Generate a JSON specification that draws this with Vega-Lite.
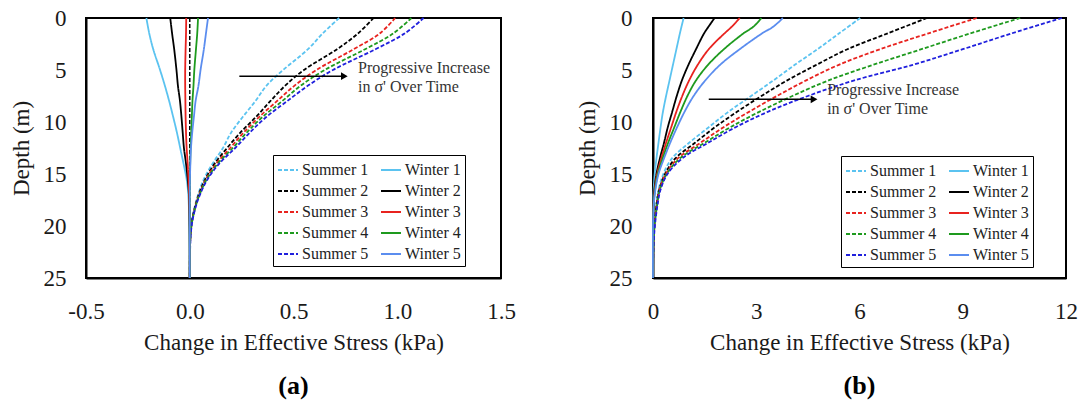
{
  "$schema": "https://vega.github.io/schema/vega-lite/v6.json",
  "padding": {"left": 9, "top": 6, "right": 0, "bottom": 0},
  "background": "white",
  "config": {
    "font": "Liberation Serif",
    "view": {"stroke": "black", "strokeWidth": 2},
    "axis": {"domainColor": "black", "domainWidth": 2, "ticks": false, "labelFont": "Liberation Serif", "labelFontSize": 23, "labelColor": "#1a1a1a", "titleFont": "Liberation Serif", "titleFontSize": 23, "titleFontWeight": "normal", "titleColor": "#1a1a1a", "grid": false, "labelFlush": false, "labelOverlap": false},
    "legend": {"title": null, "orient": "none", "columns": 2, "symbolType": "stroke", "symbolSize": 400, "symbolStrokeWidth": 2, "labelFontSize": 16, "labelFont": "Liberation Serif", "labelColor": "#222", "padding": 4, "rowPadding": 2, "columnPadding": 8, "fillColor": "white", "strokeColor": "black", "labelOffset": 3}
  },
  "datasets": {
    "a": [
      {"series": "Summer 1", "depth": 0, "value": 0.72}, {"series": "Summer 1", "depth": 1.5, "value": 0.64}, {"series": "Summer 1", "depth": 3, "value": 0.57}, {"series": "Summer 1", "depth": 5, "value": 0.45}, {"series": "Summer 1", "depth": 6.5, "value": 0.37}, {"series": "Summer 1", "depth": 8, "value": 0.316}, {"series": "Summer 1", "depth": 9.5, "value": 0.256}, {"series": "Summer 1", "depth": 11, "value": 0.2}, {"series": "Summer 1", "depth": 12.5, "value": 0.16}, {"series": "Summer 1", "depth": 14, "value": 0.11}, {"series": "Summer 1", "depth": 15.5, "value": 0.068}, {"series": "Summer 1", "depth": 17, "value": 0.04}, {"series": "Summer 1", "depth": 18.5, "value": 0.02}, {"series": "Summer 1", "depth": 20, "value": 0.006}, {"series": "Summer 1", "depth": 21.5, "value": 0.002}, {"series": "Summer 1", "depth": 25, "value": 0},
      {"series": "Summer 2", "depth": 0, "value": 0.886}, {"series": "Summer 2", "depth": 1.5, "value": 0.81}, {"series": "Summer 2", "depth": 3, "value": 0.71}, {"series": "Summer 2", "depth": 5, "value": 0.55}, {"series": "Summer 2", "depth": 6.5, "value": 0.46}, {"series": "Summer 2", "depth": 8, "value": 0.388}, {"series": "Summer 2", "depth": 9.5, "value": 0.32}, {"series": "Summer 2", "depth": 11, "value": 0.245}, {"series": "Summer 2", "depth": 12.5, "value": 0.18}, {"series": "Summer 2", "depth": 14, "value": 0.12}, {"series": "Summer 2", "depth": 15.5, "value": 0.075}, {"series": "Summer 2", "depth": 17, "value": 0.043}, {"series": "Summer 2", "depth": 18.5, "value": 0.021}, {"series": "Summer 2", "depth": 20, "value": 0.007}, {"series": "Summer 2", "depth": 21.5, "value": 0.002}, {"series": "Summer 2", "depth": 25, "value": 0},
      {"series": "Summer 3", "depth": 0, "value": 0.99}, {"series": "Summer 3", "depth": 1.5, "value": 0.915}, {"series": "Summer 3", "depth": 3, "value": 0.79}, {"series": "Summer 3", "depth": 5, "value": 0.61}, {"series": "Summer 3", "depth": 6.5, "value": 0.505}, {"series": "Summer 3", "depth": 8, "value": 0.42}, {"series": "Summer 3", "depth": 9.5, "value": 0.335}, {"series": "Summer 3", "depth": 11, "value": 0.26}, {"series": "Summer 3", "depth": 12.5, "value": 0.195}, {"series": "Summer 3", "depth": 14, "value": 0.128}, {"series": "Summer 3", "depth": 15.5, "value": 0.078}, {"series": "Summer 3", "depth": 17, "value": 0.045}, {"series": "Summer 3", "depth": 18.5, "value": 0.022}, {"series": "Summer 3", "depth": 20, "value": 0.008}, {"series": "Summer 3", "depth": 21.5, "value": 0.002}, {"series": "Summer 3", "depth": 25, "value": 0},
      {"series": "Summer 4", "depth": 0, "value": 1.068}, {"series": "Summer 4", "depth": 1.5, "value": 0.98}, {"series": "Summer 4", "depth": 3, "value": 0.845}, {"series": "Summer 4", "depth": 5, "value": 0.65}, {"series": "Summer 4", "depth": 6.5, "value": 0.535}, {"series": "Summer 4", "depth": 8, "value": 0.445}, {"series": "Summer 4", "depth": 9.5, "value": 0.352}, {"series": "Summer 4", "depth": 11, "value": 0.275}, {"series": "Summer 4", "depth": 12.5, "value": 0.207}, {"series": "Summer 4", "depth": 14, "value": 0.135}, {"series": "Summer 4", "depth": 15.5, "value": 0.082}, {"series": "Summer 4", "depth": 17, "value": 0.047}, {"series": "Summer 4", "depth": 18.5, "value": 0.023}, {"series": "Summer 4", "depth": 20, "value": 0.008}, {"series": "Summer 4", "depth": 21.5, "value": 0.002}, {"series": "Summer 4", "depth": 25, "value": 0},
      {"series": "Summer 5", "depth": 0, "value": 1.127}, {"series": "Summer 5", "depth": 1.5, "value": 1.035}, {"series": "Summer 5", "depth": 3, "value": 0.895}, {"series": "Summer 5", "depth": 5, "value": 0.69}, {"series": "Summer 5", "depth": 6.5, "value": 0.57}, {"series": "Summer 5", "depth": 8, "value": 0.469}, {"series": "Summer 5", "depth": 9.5, "value": 0.37}, {"series": "Summer 5", "depth": 11, "value": 0.29}, {"series": "Summer 5", "depth": 12.5, "value": 0.219}, {"series": "Summer 5", "depth": 14, "value": 0.142}, {"series": "Summer 5", "depth": 15.5, "value": 0.086}, {"series": "Summer 5", "depth": 17, "value": 0.049}, {"series": "Summer 5", "depth": 18.5, "value": 0.024}, {"series": "Summer 5", "depth": 20, "value": 0.009}, {"series": "Summer 5", "depth": 21.5, "value": 0.003}, {"series": "Summer 5", "depth": 25, "value": 0},
      {"series": "Winter 1", "depth": 0, "value": -0.209}, {"series": "Winter 1", "depth": 1.5, "value": -0.195}, {"series": "Winter 1", "depth": 3, "value": -0.176}, {"series": "Winter 1", "depth": 5, "value": -0.143}, {"series": "Winter 1", "depth": 6.5, "value": -0.12}, {"series": "Winter 1", "depth": 8, "value": -0.099}, {"series": "Winter 1", "depth": 9.5, "value": -0.08}, {"series": "Winter 1", "depth": 11, "value": -0.062}, {"series": "Winter 1", "depth": 12.5, "value": -0.046}, {"series": "Winter 1", "depth": 14, "value": -0.03}, {"series": "Winter 1", "depth": 15.5, "value": -0.015}, {"series": "Winter 1", "depth": 17, "value": -0.007}, {"series": "Winter 1", "depth": 20, "value": -0.002}, {"series": "Winter 1", "depth": 25, "value": 0},
      {"series": "Winter 2", "depth": 0, "value": -0.094}, {"series": "Winter 2", "depth": 1.5, "value": -0.085}, {"series": "Winter 2", "depth": 3, "value": -0.075}, {"series": "Winter 2", "depth": 5, "value": -0.064}, {"series": "Winter 2", "depth": 6.5, "value": -0.057}, {"series": "Winter 2", "depth": 8, "value": -0.047}, {"series": "Winter 2", "depth": 9.5, "value": -0.04}, {"series": "Winter 2", "depth": 11, "value": -0.034}, {"series": "Winter 2", "depth": 12.5, "value": -0.028}, {"series": "Winter 2", "depth": 14, "value": -0.018}, {"series": "Winter 2", "depth": 15.5, "value": -0.01}, {"series": "Winter 2", "depth": 17, "value": -0.004}, {"series": "Winter 2", "depth": 20, "value": -0.001}, {"series": "Winter 2", "depth": 25, "value": 0},
      {"series": "Winter 3", "depth": 0, "value": -0.017}, {"series": "Winter 3", "depth": 1.5, "value": -0.018}, {"series": "Winter 3", "depth": 3, "value": -0.02}, {"series": "Winter 3", "depth": 5, "value": -0.022}, {"series": "Winter 3", "depth": 6.5, "value": -0.022}, {"series": "Winter 3", "depth": 8, "value": -0.021}, {"series": "Winter 3", "depth": 9.5, "value": -0.02}, {"series": "Winter 3", "depth": 11, "value": -0.018}, {"series": "Winter 3", "depth": 12.5, "value": -0.015}, {"series": "Winter 3", "depth": 14, "value": -0.01}, {"series": "Winter 3", "depth": 15.5, "value": -0.006}, {"series": "Winter 3", "depth": 17, "value": -0.003}, {"series": "Winter 3", "depth": 20, "value": 0}, {"series": "Winter 3", "depth": 25, "value": 0},
      {"series": "Winter 4", "depth": 0, "value": 0.04}, {"series": "Winter 4", "depth": 1.5, "value": 0.036}, {"series": "Winter 4", "depth": 3, "value": 0.03}, {"series": "Winter 4", "depth": 5, "value": 0.022}, {"series": "Winter 4", "depth": 6.5, "value": 0.018}, {"series": "Winter 4", "depth": 8, "value": 0.013}, {"series": "Winter 4", "depth": 9.5, "value": 0.01}, {"series": "Winter 4", "depth": 11, "value": 0.007}, {"series": "Winter 4", "depth": 12.5, "value": 0.004}, {"series": "Winter 4", "depth": 14, "value": 0.002}, {"series": "Winter 4", "depth": 15.5, "value": 0.001}, {"series": "Winter 4", "depth": 17, "value": 0}, {"series": "Winter 4", "depth": 20, "value": 0}, {"series": "Winter 4", "depth": 25, "value": 0},
      {"series": "Winter 5", "depth": 0, "value": 0.088}, {"series": "Winter 5", "depth": 1.5, "value": 0.078}, {"series": "Winter 5", "depth": 3, "value": 0.068}, {"series": "Winter 5", "depth": 5, "value": 0.052}, {"series": "Winter 5", "depth": 6.5, "value": 0.042}, {"series": "Winter 5", "depth": 8, "value": 0.028}, {"series": "Winter 5", "depth": 9.5, "value": 0.02}, {"series": "Winter 5", "depth": 11, "value": 0.012}, {"series": "Winter 5", "depth": 12.5, "value": 0.006}, {"series": "Winter 5", "depth": 14, "value": 0.003}, {"series": "Winter 5", "depth": 15.5, "value": 0.001}, {"series": "Winter 5", "depth": 17, "value": 0}, {"series": "Winter 5", "depth": 20, "value": 0}, {"series": "Winter 5", "depth": 25, "value": 0}
    ],
    "b": [
      {"series": "Summer 1", "depth": 0, "value": 6.02}, {"series": "Summer 1", "depth": 1.5, "value": 5.4}, {"series": "Summer 1", "depth": 3, "value": 4.78}, {"series": "Summer 1", "depth": 4.5, "value": 4.12}, {"series": "Summer 1", "depth": 6, "value": 3.5}, {"series": "Summer 1", "depth": 7.5, "value": 2.85}, {"series": "Summer 1", "depth": 9, "value": 2.2}, {"series": "Summer 1", "depth": 10.5, "value": 1.62}, {"series": "Summer 1", "depth": 12, "value": 1.05}, {"series": "Summer 1", "depth": 13.5, "value": 0.55}, {"series": "Summer 1", "depth": 15, "value": 0.3}, {"series": "Summer 1", "depth": 16.5, "value": 0.16}, {"series": "Summer 1", "depth": 18, "value": 0.09}, {"series": "Summer 1", "depth": 19.5, "value": 0.04}, {"series": "Summer 1", "depth": 21, "value": 0.015}, {"series": "Summer 1", "depth": 22.5, "value": 0.005}, {"series": "Summer 1", "depth": 25, "value": 0},
      {"series": "Summer 2", "depth": 0, "value": 7.96}, {"series": "Summer 2", "depth": 1.5, "value": 6.8}, {"series": "Summer 2", "depth": 3, "value": 5.65}, {"series": "Summer 2", "depth": 4.5, "value": 4.75}, {"series": "Summer 2", "depth": 6, "value": 3.9}, {"series": "Summer 2", "depth": 7.5, "value": 3.15}, {"series": "Summer 2", "depth": 9, "value": 2.45}, {"series": "Summer 2", "depth": 10.5, "value": 1.8}, {"series": "Summer 2", "depth": 12, "value": 1.22}, {"series": "Summer 2", "depth": 13.5, "value": 0.65}, {"series": "Summer 2", "depth": 15, "value": 0.35}, {"series": "Summer 2", "depth": 16.5, "value": 0.18}, {"series": "Summer 2", "depth": 18, "value": 0.1}, {"series": "Summer 2", "depth": 19.5, "value": 0.05}, {"series": "Summer 2", "depth": 21, "value": 0.02}, {"series": "Summer 2", "depth": 22.5, "value": 0.006}, {"series": "Summer 2", "depth": 25, "value": 0},
      {"series": "Summer 3", "depth": 0, "value": 9.41}, {"series": "Summer 3", "depth": 1.5, "value": 7.98}, {"series": "Summer 3", "depth": 3, "value": 6.6}, {"series": "Summer 3", "depth": 4.5, "value": 5.4}, {"series": "Summer 3", "depth": 6, "value": 4.45}, {"series": "Summer 3", "depth": 7.5, "value": 3.6}, {"series": "Summer 3", "depth": 9, "value": 2.8}, {"series": "Summer 3", "depth": 10.5, "value": 2.05}, {"series": "Summer 3", "depth": 12, "value": 1.38}, {"series": "Summer 3", "depth": 13.5, "value": 0.72}, {"series": "Summer 3", "depth": 15, "value": 0.37}, {"series": "Summer 3", "depth": 16.5, "value": 0.19}, {"series": "Summer 3", "depth": 18, "value": 0.11}, {"series": "Summer 3", "depth": 19.5, "value": 0.055}, {"series": "Summer 3", "depth": 21, "value": 0.02}, {"series": "Summer 3", "depth": 22.5, "value": 0.007}, {"series": "Summer 3", "depth": 25, "value": 0},
      {"series": "Summer 4", "depth": 0, "value": 10.67}, {"series": "Summer 4", "depth": 1.5, "value": 9.2}, {"series": "Summer 4", "depth": 3, "value": 7.8}, {"series": "Summer 4", "depth": 4.5, "value": 6.4}, {"series": "Summer 4", "depth": 6, "value": 5.1}, {"series": "Summer 4", "depth": 7.5, "value": 4.05}, {"series": "Summer 4", "depth": 9, "value": 3.1}, {"series": "Summer 4", "depth": 10.5, "value": 2.25}, {"series": "Summer 4", "depth": 12, "value": 1.5}, {"series": "Summer 4", "depth": 13.5, "value": 0.78}, {"series": "Summer 4", "depth": 15, "value": 0.4}, {"series": "Summer 4", "depth": 16.5, "value": 0.2}, {"series": "Summer 4", "depth": 18, "value": 0.12}, {"series": "Summer 4", "depth": 19.5, "value": 0.06}, {"series": "Summer 4", "depth": 21, "value": 0.025}, {"series": "Summer 4", "depth": 22.5, "value": 0.008}, {"series": "Summer 4", "depth": 25, "value": 0},
      {"series": "Summer 5", "depth": 0, "value": 11.88}, {"series": "Summer 5", "depth": 1.5, "value": 10.4}, {"series": "Summer 5", "depth": 3, "value": 9.0}, {"series": "Summer 5", "depth": 4.5, "value": 7.55}, {"series": "Summer 5", "depth": 6, "value": 5.85}, {"series": "Summer 5", "depth": 7.5, "value": 4.5}, {"series": "Summer 5", "depth": 9, "value": 3.35}, {"series": "Summer 5", "depth": 10.5, "value": 2.4}, {"series": "Summer 5", "depth": 12, "value": 1.6}, {"series": "Summer 5", "depth": 13.5, "value": 0.85}, {"series": "Summer 5", "depth": 15, "value": 0.42}, {"series": "Summer 5", "depth": 16.5, "value": 0.22}, {"series": "Summer 5", "depth": 18, "value": 0.13}, {"series": "Summer 5", "depth": 19.5, "value": 0.07}, {"series": "Summer 5", "depth": 21, "value": 0.03}, {"series": "Summer 5", "depth": 22.5, "value": 0.01}, {"series": "Summer 5", "depth": 25, "value": 0},
      {"series": "Winter 1", "depth": 0, "value": 0.89}, {"series": "Winter 1", "depth": 0.8, "value": 0.83}, {"series": "Winter 1", "depth": 1.5, "value": 0.78}, {"series": "Winter 1", "depth": 3, "value": 0.68}, {"series": "Winter 1", "depth": 4.5, "value": 0.58}, {"series": "Winter 1", "depth": 6, "value": 0.48}, {"series": "Winter 1", "depth": 7.5, "value": 0.38}, {"series": "Winter 1", "depth": 9, "value": 0.29}, {"series": "Winter 1", "depth": 10.5, "value": 0.22}, {"series": "Winter 1", "depth": 12, "value": 0.16}, {"series": "Winter 1", "depth": 13.5, "value": 0.1}, {"series": "Winter 1", "depth": 15, "value": 0.05}, {"series": "Winter 1", "depth": 16.5, "value": 0.02}, {"series": "Winter 1", "depth": 18, "value": 0.005}, {"series": "Winter 1", "depth": 20, "value": 0}, {"series": "Winter 1", "depth": 25, "value": 0},
      {"series": "Winter 2", "depth": 0, "value": 1.79}, {"series": "Winter 2", "depth": 0.8, "value": 1.62}, {"series": "Winter 2", "depth": 1.5, "value": 1.48}, {"series": "Winter 2", "depth": 3, "value": 1.25}, {"series": "Winter 2", "depth": 4.5, "value": 1.03}, {"series": "Winter 2", "depth": 6, "value": 0.84}, {"series": "Winter 2", "depth": 7.5, "value": 0.69}, {"series": "Winter 2", "depth": 9, "value": 0.56}, {"series": "Winter 2", "depth": 10.5, "value": 0.43}, {"series": "Winter 2", "depth": 12, "value": 0.32}, {"series": "Winter 2", "depth": 13.5, "value": 0.2}, {"series": "Winter 2", "depth": 15, "value": 0.1}, {"series": "Winter 2", "depth": 16.5, "value": 0.04}, {"series": "Winter 2", "depth": 18, "value": 0.01}, {"series": "Winter 2", "depth": 20, "value": 0}, {"series": "Winter 2", "depth": 25, "value": 0},
      {"series": "Winter 3", "depth": 0, "value": 2.52}, {"series": "Winter 3", "depth": 0.8, "value": 2.3}, {"series": "Winter 3", "depth": 1.5, "value": 2.07}, {"series": "Winter 3", "depth": 3, "value": 1.62}, {"series": "Winter 3", "depth": 4.5, "value": 1.3}, {"series": "Winter 3", "depth": 6, "value": 1.05}, {"series": "Winter 3", "depth": 7.5, "value": 0.85}, {"series": "Winter 3", "depth": 9, "value": 0.68}, {"series": "Winter 3", "depth": 10.5, "value": 0.53}, {"series": "Winter 3", "depth": 12, "value": 0.38}, {"series": "Winter 3", "depth": 13.5, "value": 0.24}, {"series": "Winter 3", "depth": 15, "value": 0.12}, {"series": "Winter 3", "depth": 16.5, "value": 0.05}, {"series": "Winter 3", "depth": 18, "value": 0.015}, {"series": "Winter 3", "depth": 20, "value": 0}, {"series": "Winter 3", "depth": 25, "value": 0},
      {"series": "Winter 4", "depth": 0, "value": 3.15}, {"series": "Winter 4", "depth": 0.8, "value": 2.93}, {"series": "Winter 4", "depth": 1.5, "value": 2.62}, {"series": "Winter 4", "depth": 3, "value": 2.06}, {"series": "Winter 4", "depth": 4.5, "value": 1.6}, {"series": "Winter 4", "depth": 6, "value": 1.25}, {"series": "Winter 4", "depth": 7.5, "value": 1.0}, {"series": "Winter 4", "depth": 9, "value": 0.8}, {"series": "Winter 4", "depth": 10.5, "value": 0.62}, {"series": "Winter 4", "depth": 12, "value": 0.44}, {"series": "Winter 4", "depth": 13.5, "value": 0.28}, {"series": "Winter 4", "depth": 15, "value": 0.14}, {"series": "Winter 4", "depth": 16.5, "value": 0.06}, {"series": "Winter 4", "depth": 18, "value": 0.02}, {"series": "Winter 4", "depth": 20, "value": 0}, {"series": "Winter 4", "depth": 25, "value": 0},
      {"series": "Winter 5", "depth": 0, "value": 3.77}, {"series": "Winter 5", "depth": 0.8, "value": 3.51}, {"series": "Winter 5", "depth": 1.5, "value": 3.16}, {"series": "Winter 5", "depth": 3, "value": 2.52}, {"series": "Winter 5", "depth": 4.5, "value": 1.95}, {"series": "Winter 5", "depth": 6, "value": 1.52}, {"series": "Winter 5", "depth": 7.5, "value": 1.18}, {"series": "Winter 5", "depth": 9, "value": 0.92}, {"series": "Winter 5", "depth": 10.5, "value": 0.7}, {"series": "Winter 5", "depth": 12, "value": 0.5}, {"series": "Winter 5", "depth": 13.5, "value": 0.32}, {"series": "Winter 5", "depth": 15, "value": 0.16}, {"series": "Winter 5", "depth": 16.5, "value": 0.07}, {"series": "Winter 5", "depth": 18, "value": 0.02}, {"series": "Winter 5", "depth": 20, "value": 0}, {"series": "Winter 5", "depth": 25, "value": 0}
    ],
    "a_xminor": [{"value": -0.4}, {"value": -0.3}, {"value": -0.2}, {"value": -0.1}, {"value": 0.1}, {"value": 0.2}, {"value": 0.3}, {"value": 0.4}, {"value": 0.6}, {"value": 0.7}, {"value": 0.8}, {"value": 0.9}, {"value": 1.1}, {"value": 1.2}, {"value": 1.3}, {"value": 1.4}],
    "a_xmajor": [{"value": 0}, {"value": 0.5}, {"value": 1.0}],
    "b_xminor": [{"value": 0.6}, {"value": 1.2}, {"value": 1.8}, {"value": 2.4}, {"value": 3.6}, {"value": 4.2}, {"value": 4.8}, {"value": 5.4}, {"value": 6.6}, {"value": 7.2}, {"value": 7.8}, {"value": 8.4}, {"value": 9.6}, {"value": 10.2}, {"value": 10.8}, {"value": 11.4}],
    "b_xmajor": [{"value": 3}, {"value": 6}, {"value": 9}],
    "yminor": [{"depth": 1}, {"depth": 2}, {"depth": 3}, {"depth": 4}, {"depth": 6}, {"depth": 7}, {"depth": 8}, {"depth": 9}, {"depth": 11}, {"depth": 12}, {"depth": 13}, {"depth": 14}, {"depth": 16}, {"depth": 17}, {"depth": 18}, {"depth": 19}, {"depth": 21}, {"depth": 22}, {"depth": 23}, {"depth": 24}],
    "ymajor": [{"depth": 5}, {"depth": 10}, {"depth": 15}, {"depth": 20}]
  },
  "bounds": "flush",
  "spacing": 152,
  "resolve": {"scale": {"color": "independent", "strokeDash": "independent"}, "legend": {"color": "independent", "strokeDash": "independent"}},
  "hconcat": [
    {
      "width": 415,
      "height": 260,
      "title": {"text": "(a)", "orient": "bottom", "fontSize": 26, "fontWeight": "bold", "font": "Liberation Serif", "color": "black", "offset": 19},
      "encoding": {
        "x": {"field": "value", "type": "quantitative", "scale": {"domain": [-0.5, 1.5], "nice": false, "zero": false},
          "axis": {"title": "Change in Effective Stress (kPa)", "values": [-0.5, 0, 0.5, 1, 1.5],
            "labelExpr": "(datum.value < 0 ? '-' : '') + format(abs(datum.value), '.1f')",
            "labelPadding": 22, "titlePadding": 8}},
        "y": {"field": "depth", "type": "quantitative", "scale": {"domain": [0, 25], "reverse": true, "nice": false},
          "axis": {"title": "Depth (m)", "values": [0, 5, 10, 15, 20, 25],
            "labelPadding": 20, "titlePadding": 10}}
      },
      "layer": [
        {
          "data": {"values": [{"value": 0, "depth": 0}, {"value": 0, "depth": 25}]},
          "mark": {"type": "line", "color": "black", "strokeDash": [4, 2], "strokeWidth": 1.5},
          "encoding": {"order": {"field": "depth", "type": "quantitative"}}
        },
        {"data": {"name": "a_xminor"}, "mark": {"type": "rule", "color": "black", "strokeWidth": 2, "y2Offset": -6},
          "encoding": {"y": {"datum": 25, "type": "quantitative"}, "y2": {"datum": 25}}},
        {"data": {"name": "a_xmajor"}, "mark": {"type": "rule", "color": "black", "strokeWidth": 2, "y2Offset": -10},
          "encoding": {"y": {"datum": 25, "type": "quantitative"}, "y2": {"datum": 25}}},
        {"data": {"name": "yminor"}, "mark": {"type": "rule", "color": "black", "strokeWidth": 2, "x2Offset": 7},
          "encoding": {"x": {"datum": -0.5, "type": "quantitative"}, "x2": {"datum": -0.5}}},
        {"data": {"name": "ymajor"}, "mark": {"type": "rule", "color": "black", "strokeWidth": 2, "x2Offset": 10},
          "encoding": {"x": {"datum": -0.5, "type": "quantitative"}, "x2": {"datum": -0.5}}},
        {
          "data": {"name": "a"},
          "mark": {"type": "line", "strokeWidth": 1.8, "interpolate": "catmull-rom"},
          "encoding": {
            "order": {"field": "depth", "type": "quantitative"},
            "color": {"field": "series", "type": "nominal",
              "scale": {"domain": ["Summer 1", "Summer 2", "Summer 3", "Summer 4", "Summer 5", "Winter 1", "Winter 2", "Winter 3", "Winter 4", "Winter 5"],
                "range": ["#5BC3F0", "#000000", "#E8231F", "#1E9A1E", "#2020DD", "#5BC3F0", "#000000", "#E8231F", "#1E9A1E", "#5B8DEF"]},
              "legend": {"legendX": 187, "legendY": 137}},
            "strokeDash": {"field": "series", "type": "nominal",
              "scale": {"domain": ["Summer 1", "Summer 2", "Summer 3", "Summer 4", "Summer 5", "Winter 1", "Winter 2", "Winter 3", "Winter 4", "Winter 5"],
                "range": [[4, 2], [4, 2], [4, 2], [4, 2], [4, 2], [1, 0], [1, 0], [1, 0], [1, 0], [1, 0]]},
              "legend": {"legendX": 187, "legendY": 137}}
          }
        },
        {
          "data": {"values": [{"value": 0.239, "value2": 0.745, "depth": 5.6}]},
          "mark": {"type": "rule", "color": "black", "strokeWidth": 1.5},
          "encoding": {"x2": {"field": "value2"}}
        },
        {
          "data": {"values": [{"value": 0.745, "depth": 5.6}]},
          "mark": {"type": "point", "shape": "triangle-right", "filled": true, "color": "black", "size": 60, "opacity": 1}
        },
        {
          "data": {"values": [{"value": 0.811, "depth": 4.78, "label": "Progressive Increase"}, {"value": 0.811, "depth": 6.6, "label": "in σ' Over Time"}]},
          "mark": {"type": "text", "align": "left", "baseline": "middle", "fontSize": 16, "font": "Liberation Serif", "color": "#333"},
          "encoding": {"text": {"field": "label"}}
        }
      ]
    },
    {
      "width": 413,
      "height": 260,
      "title": {"text": "(b)", "orient": "bottom", "fontSize": 26, "fontWeight": "bold", "font": "Liberation Serif", "color": "black", "offset": 19},
      "encoding": {
        "x": {"field": "value", "type": "quantitative", "scale": {"domain": [0, 12], "nice": false},
          "axis": {"title": "Change in Effective Stress (kPa)", "values": [0, 3, 6, 9, 12], "format": "d",
            "labelPadding": 22, "titlePadding": 8}},
        "y": {"field": "depth", "type": "quantitative", "scale": {"domain": [0, 25], "reverse": true, "nice": false},
          "axis": {"title": "Depth (m)", "values": [0, 5, 10, 15, 20, 25],
            "labelPadding": 21, "titlePadding": 10}}
      },
      "layer": [
        {"data": {"name": "b_xminor"}, "mark": {"type": "rule", "color": "black", "strokeWidth": 2, "y2Offset": -6},
          "encoding": {"y": {"datum": 25, "type": "quantitative"}, "y2": {"datum": 25}}},
        {"data": {"name": "b_xmajor"}, "mark": {"type": "rule", "color": "black", "strokeWidth": 2, "y2Offset": -10},
          "encoding": {"y": {"datum": 25, "type": "quantitative"}, "y2": {"datum": 25}}},
        {"data": {"name": "yminor"}, "mark": {"type": "rule", "color": "black", "strokeWidth": 2, "x2Offset": 7},
          "encoding": {"x": {"datum": 0, "type": "quantitative"}, "x2": {"datum": 0}}},
        {"data": {"name": "ymajor"}, "mark": {"type": "rule", "color": "black", "strokeWidth": 2, "x2Offset": 10},
          "encoding": {"x": {"datum": 0, "type": "quantitative"}, "x2": {"datum": 0}}},
        {
          "data": {"name": "b"},
          "mark": {"type": "line", "strokeWidth": 1.8, "interpolate": "catmull-rom"},
          "encoding": {
            "order": {"field": "depth", "type": "quantitative"},
            "color": {"field": "series", "type": "nominal",
              "scale": {"domain": ["Summer 1", "Summer 2", "Summer 3", "Summer 4", "Summer 5", "Winter 1", "Winter 2", "Winter 3", "Winter 4", "Winter 5"],
                "range": ["#5BC3F0", "#000000", "#E8231F", "#1E9A1E", "#2020DD", "#5BC3F0", "#000000", "#E8231F", "#1E9A1E", "#5B8DEF"]},
              "legend": {"legendX": 188, "legendY": 138}},
            "strokeDash": {"field": "series", "type": "nominal",
              "scale": {"domain": ["Summer 1", "Summer 2", "Summer 3", "Summer 4", "Summer 5", "Winter 1", "Winter 2", "Winter 3", "Winter 4", "Winter 5"],
                "range": [[4, 2], [4, 2], [4, 2], [4, 2], [4, 2], [1, 0], [1, 0], [1, 0], [1, 0], [1, 0]]},
              "legend": {"legendX": 188, "legendY": 138}}
          }
        },
        {
          "data": {"values": [{"value": 1.62, "value2": 4.68, "depth": 7.82}]},
          "mark": {"type": "rule", "color": "black", "strokeWidth": 1.5},
          "encoding": {"x2": {"field": "value2"}}
        },
        {
          "data": {"values": [{"value": 4.68, "depth": 7.82}]},
          "mark": {"type": "point", "shape": "triangle-right", "filled": true, "color": "black", "size": 60, "opacity": 1}
        },
        {
          "data": {"values": [{"value": 5.06, "depth": 6.95, "label": "Progressive Increase"}, {"value": 5.06, "depth": 8.78, "label": "in σ' Over Time"}]},
          "mark": {"type": "text", "align": "left", "baseline": "middle", "fontSize": 16, "font": "Liberation Serif", "color": "#333"},
          "encoding": {"text": {"field": "label"}}
        }
      ]
    }
  ]
}
